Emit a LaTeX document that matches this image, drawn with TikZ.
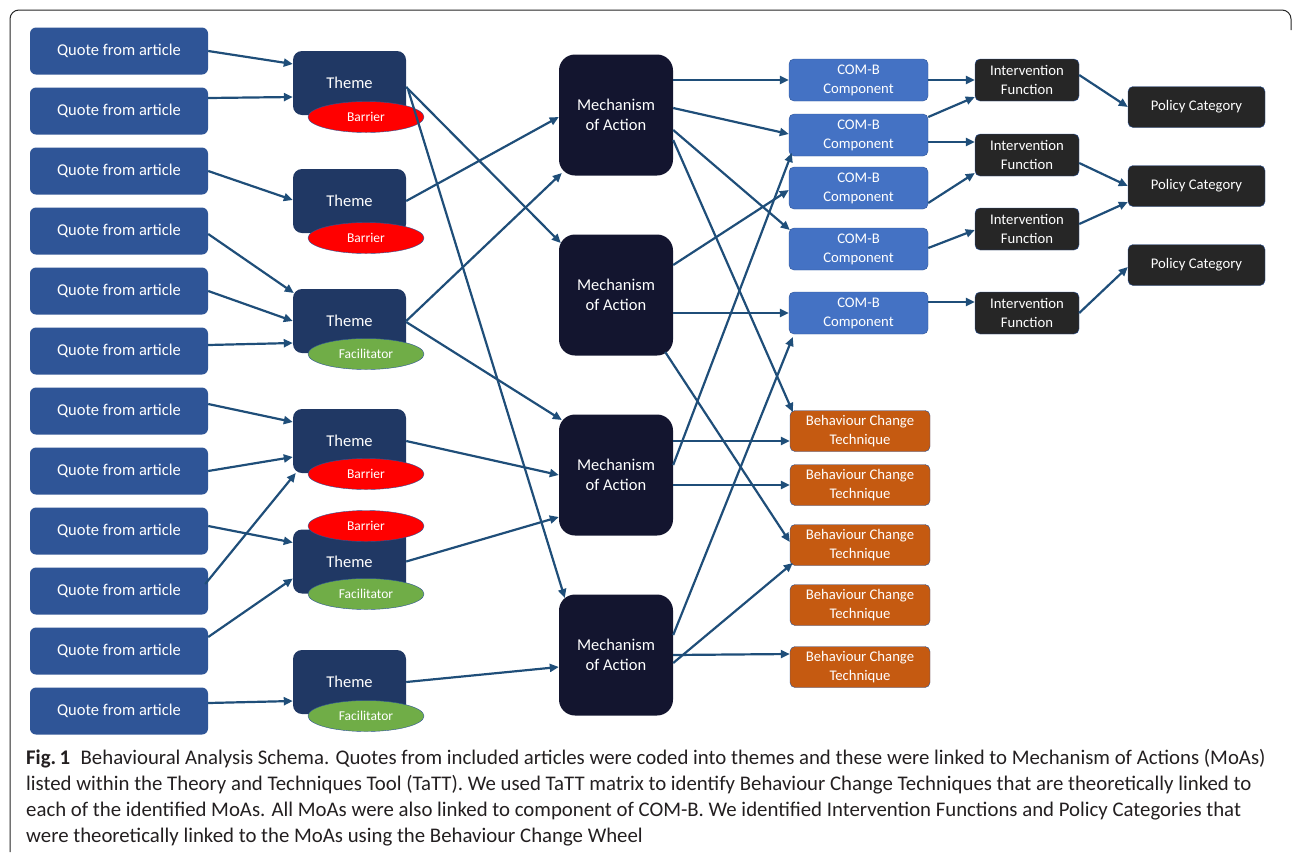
\documentclass[tikz,border=0pt]{standalone}
\usepackage{fontspec}
\setmainfont{Carlito}
\usepackage{xcolor}
\usepackage{tikz}
\usetikzlibrary{arrows.meta,shapes.geometric}
\definecolor{quoteblue}{HTML}{2F5597}
\definecolor{themenavy}{HTML}{203864}
\definecolor{moanavy}{HTML}{13152F}
\definecolor{combblue}{HTML}{4472C4}
\definecolor{ifblack}{HTML}{262626}
\definecolor{bctorange}{HTML}{C55A11}
\definecolor{barrierred}{HTML}{FF0000}
\definecolor{facilgreen}{HTML}{70AD47}
\definecolor{linkblue}{HTML}{1F4E79}
\definecolor{edgeblue}{HTML}{2F5597}
\definecolor{captiongray}{HTML}{231F20}

\begin{document}
\begin{tikzpicture}[x=1pt,y=-1pt,
  every node/.style={text=white,align=center,inner sep=0pt},
  quotebox/.style={fill=quoteblue,rounded corners=6pt,minimum width=178pt,minimum height=47pt,font=\fontsize{16.5}{20}\selectfont},
  themebox/.style={fill=themenavy,rounded corners=9pt,minimum width=113pt,minimum height=64pt,font=\fontsize{16.5}{20}\selectfont},
  moabox/.style={fill=moanavy,rounded corners=16pt,minimum width=114pt,minimum height=121pt,font=\fontsize{16.5}{20}\selectfont},
  combox/.style={fill=combblue,draw=edgeblue,rounded corners=5pt,minimum width=139pt,minimum height=42pt,font=\fontsize{14.7}{19}\selectfont},
  ifbox/.style={fill=ifblack,draw=edgeblue,rounded corners=5pt,minimum width=104pt,minimum height=42pt,font=\fontsize{14.7}{19}\selectfont},
  pcbox/.style={fill=ifblack,draw=edgeblue,rounded corners=5pt,minimum width=137pt,minimum height=41pt,font=\fontsize{14.7}{19}\selectfont},
  bctbox/.style={fill=bctorange,draw=edgeblue,rounded corners=5pt,minimum width=140pt,minimum height=41pt,font=\fontsize{14.7}{19}\selectfont},
  barrier/.style={ellipse,fill=barrierred,draw=edgeblue,minimum width=116pt,minimum height=31pt,font=\fontsize{13.5}{16}\selectfont},
  facil/.style={ellipse,fill=facilgreen,draw=edgeblue,minimum width=116pt,minimum height=31pt,font=\fontsize{13.5}{16}\selectfont},
  conn/.style={draw=linkblue,line width=2.2pt,-{Triangle[length=9pt,width=8pt]}}]
  \useasboundingbox (0,0) rectangle (1292,852);
  % frame
  \draw[black!85,line width=1pt,rounded corners=9pt] (10,852) -- (10,10) -- (1291,10) -- (1291,30);
  % quotes
  \foreach \i in {1,...,12}
    \node[quotebox] (q\i) at (119,{51+60*(\i-1)}) {Quote from article};
  % themes with barrier / facilitator tags
  \node[themebox] (t1) at (349.5,83) {Theme};
  \node[themebox] (t2) at (349.5,201) {Theme};
  \node[themebox] (t3) at (349.5,321) {Theme};
  \node[themebox] (t4) at (349.5,441) {Theme};
  \node[themebox] (t5) at (349.5,561.5) {Theme};
  \node[themebox] (t6) at (349.5,682) {Theme};
  \node[barrier] (b1) at (366,117) {Barrier};
  \node[barrier] (b2) at (366,238) {Barrier};
  \node[facil] (f3) at (366,354) {Facilitator};
  \node[barrier] (b4) at (366,474) {Barrier};
  \node[barrier] (b5) at (366,526) {Barrier};
  \node[facil] (f5) at (366,594) {Facilitator};
  \node[facil] (f6) at (366,716) {Facilitator};
  % mechanisms of action
  \foreach \i/\y in {1/115,2/295,3/475,4/655}
    \node[moabox] (m\i) at (616,\y) {Mechanism\\of Action};
  % COM-B
  \foreach \i/\y in {1/80,2/135,3/188,4/249,5/313}
    \node[combox] (cb\i) at (858.5,\y) {COM-B\\Component};
  % intervention functions
  \foreach \i/\y in {1/80,2/155,3/229,4/313}
    \node[ifbox] (if\i) at (1027,\y) {Intervention\\Function};
  % policy categories
  \foreach \i/\y in {1/107,2/186,3/265}
    \node[pcbox] (pc\i) at (1196.5,\y) {Policy Category};
  % behaviour change techniques
  \foreach \i/\y in {1/431,2/485,3/545,4/605,5/667}
    \node[bctbox] (bct\i) at (860,\y) {Behaviour Change\\Technique};
  % links: source/dx/dy/target/dx/dy
  \foreach \s/\sx/\sy/\t/\tx/\ty in {
      q1/0/0/t1/0/-19, q2/0/-13/t1/0/14, q3/0/0/t2/0/-1, q4/0/3/t3/1/-28,
      q5/0/0/t3/0/0, q6/0/-6/t3/0/22, q7/0/-7/t4/0/-19, q8/0/0/t4/0/16,
      q9/0/-5/t5/0/-19, q10/-3/-7/t4/3/32, q11/0/-14/t5/0/17, q12/0/-8/t6/0/19,
      t1/0/4/m2/2/-52, t1/2/7/m4/6/-57, t2/0/0/m1/0/2, t3/0/0/m1/3/58,
      t3/0/1/m3/3/-55, t4/0/0/m3/0/0, t5/0/0/m3/0/42, t6/0/0/m4/0/12,
      m1/0/-35/cb1/0/0, m1/0/-7/cb2/0/-1, m1/0/15/cb4/1/-19, m1/0/25/bct1/3/-19,
      m2/0/-30/cb3/0/2, m2/0/18/cb5/0/0, m2/-8/57/bct3/0/-3,
      m3/0/-10/cb2/3/18, m3/0/-34/bct1/0/10, m3/0/10/bct2/0/0,
      m4/0/-20/cb5/4/24, m4/0/8/bct3/3/18, m4/0/0/bct5/0/-13,
      cb1/0/0/if1/0/0, cb2/0/-18/if1/0/17, cb2/0/7/if2/0/-13,
      cb3/0/15/if2/0/18, cb4/0/-1/if3/0/1, cb5/0/-11/if4/0/-11,
      if1/0/-5/pc1/0/0, if2/0/8/pc2/0/0, if3/0/-5/pc2/0/16, if4/0/0/pc3/0/2}
    \draw[conn] ([shift={(\sx,\sy)}]\s.east) -- ([shift={(\tx,\ty)}]\t.west);
  % caption
  \node[anchor=base west,align=left,text=captiongray,font=\fontsize{20.8}{25.7}\selectfont] (cap) at (26,842)
    {\textbf{Fig.\,1}\enspace Behavioural Analysis Schema. Quotes from included articles were coded into themes and these were linked to Mechanism of Actions (MoAs)\\
     listed within the Theory and Techniques Tool (TaTT). We used TaTT matrix to identify Behaviour Change Techniques that are theoretically linked to\\
     each of the identified MoAs. All MoAs were also linked to component of COM-B. We identified Intervention Functions and Policy Categories that\\
     were theoretically linked to the MoAs using the Behaviour Change Wheel};
\end{tikzpicture}
\end{document}
